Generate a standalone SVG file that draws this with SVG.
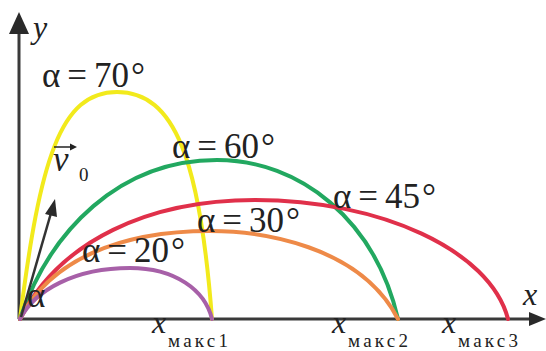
<svg xmlns="http://www.w3.org/2000/svg" width="546" height="351" viewBox="0 0 546 351">
<style>
.ax{stroke:#3a3a3a;stroke-width:3;fill:none}
.ah{fill:#2a2a2a}
.cv{fill:none;stroke-width:4;stroke-linecap:round}
text{font-family:'Liberation Serif','DejaVu Serif',serif;fill:#222}
.lb{font-size:35px}
.it{font-style:italic}
.sb{font-size:19px}
</style>
<rect width="546" height="351" fill="#fff"/>
<g id="axes">
<line class="ax" x1="19" y1="319" x2="19" y2="30"/>
<polygon class="ah" points="19,12 9,34 29,34"/>
<line class="ax" x1="18" y1="319" x2="532" y2="319"/>
<polygon class="ah" points="546,319 529,312 529,326"/>
</g>
<g id="connectors">
<path id="c70" class="cv" stroke="#f2ea1c" d="M20,319 C40,160 60,92 117,92 C175,92 200,160 212,319"/>
<path id="c60" class="cv" stroke="#22a860" d="M20,319 C50,230 120,160 217,160 C300,160 375,220 398,319"/>
<path id="c45" class="cv" stroke="#e0304a" d="M20,319 C60,240 150,200 255,200 C380,200 490,250 508,319"/>
<path id="c30" class="cv" stroke="#ee8a48" d="M20,319 C50,260 120,231 210,231 C260,231 360,245 398,319"/>
<path id="c20" class="cv" stroke="#a760a8" d="M20,319 C35,290 75,268 130,268 C175,268 205,290 212,319"/>
<line stroke="#333" stroke-width="2.5" x1="21" y1="317" x2="51" y2="213"/>
<polygon class="ah" points="55,199 45,214 57,217"/>
</g>
<g id="labels">
<text class="it" x="33" y="38" font-size="32">y</text>
<text class="it" x="523" y="305" font-size="32">x</text>
<text class="lb" x="42" y="87">α<tspan dx="7">=</tspan><tspan dx="7">70</tspan><tspan dx="2">°</tspan></text>
<text class="lb" x="172" y="158">α<tspan dx="7">=</tspan><tspan dx="7">60</tspan><tspan dx="2">°</tspan></text>
<text class="lb" x="333" y="208">α<tspan dx="7">=</tspan><tspan dx="7">45</tspan><tspan dx="2">°</tspan></text>
<text class="lb" x="197" y="232">α<tspan dx="7">=</tspan><tspan dx="7">30</tspan><tspan dx="2">°</tspan></text>
<text class="lb" x="82" y="262">α<tspan dx="7">=</tspan><tspan dx="7">20</tspan><tspan dx="2">°</tspan></text>
<text class="lb" x="27" y="307">α</text>
<g id="v0">
<text class="it" x="53" y="171" font-size="35">v</text>
<line stroke="#222" stroke-width="1.5" x1="54" y1="147" x2="73" y2="147"/>
<polygon fill="#222" points="77,147 70,143.5 70,150.5"/>
<text class="sb" x="79" y="181" font-size="21">0</text>
</g>
<g id="xm1"><text class="it" x="152" y="333" font-size="32">x</text><text class="sb" x="168" y="347" textLength="60" lengthAdjust="spacing">макс1</text></g>
<g id="xm2"><text class="it" x="332" y="333" font-size="32">x</text><text class="sb" x="348" y="347" textLength="60" lengthAdjust="spacing">макс2</text></g>
<g id="xm3"><text class="it" x="442" y="333" font-size="32">x</text><text class="sb" x="458" y="347" textLength="60" lengthAdjust="spacing">макс3</text></g>
</g>
</svg>
